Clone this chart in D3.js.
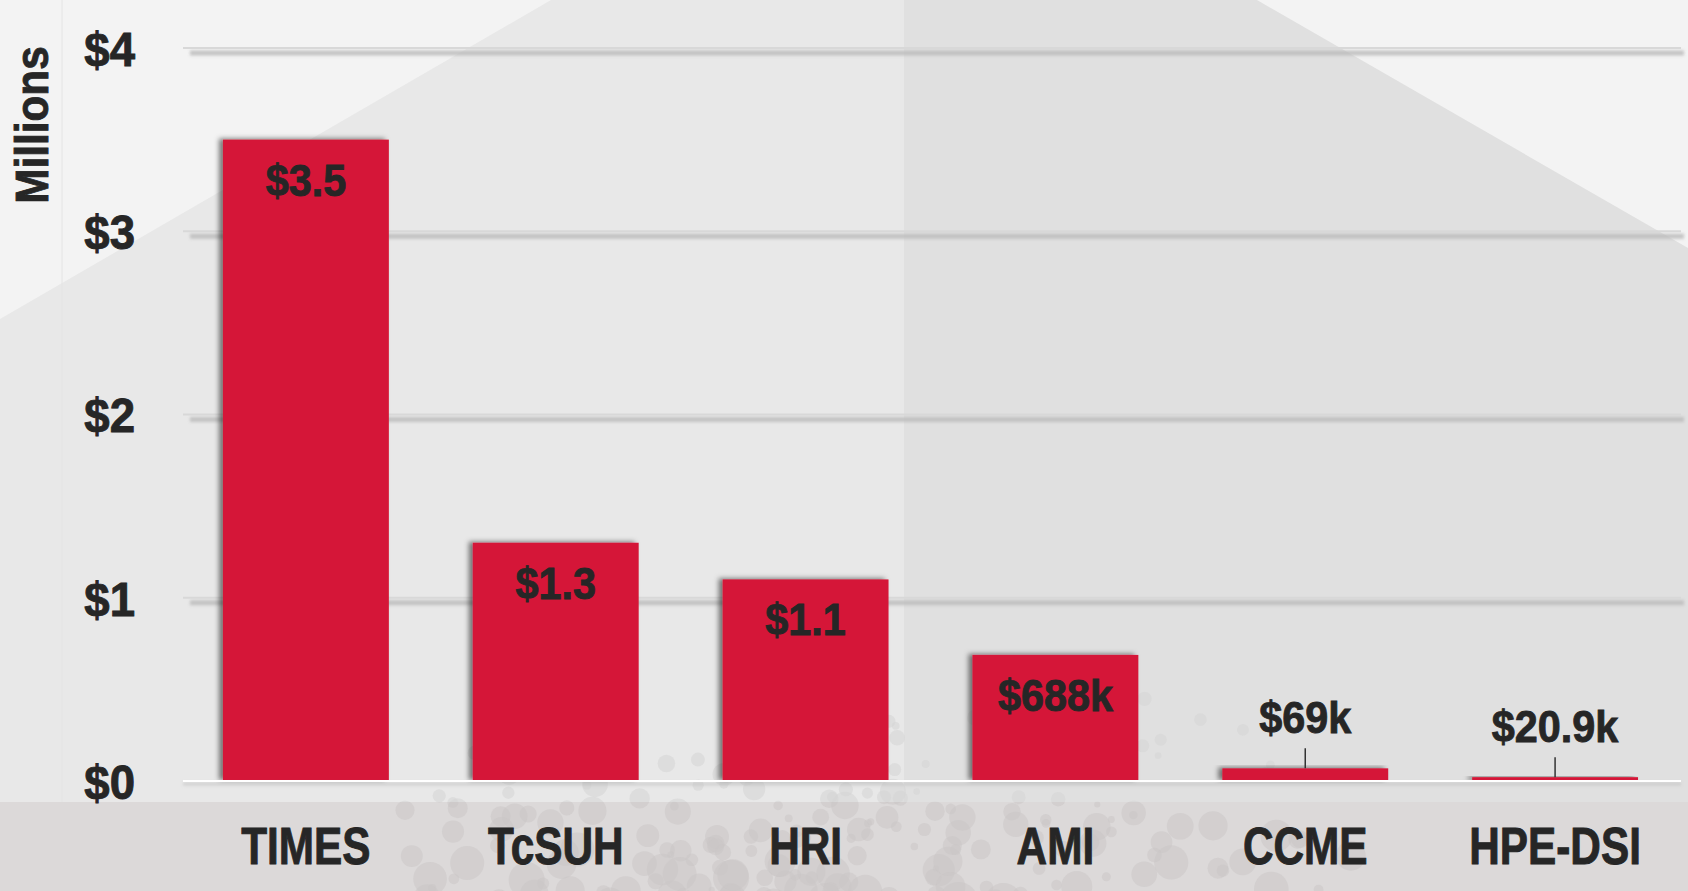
<!DOCTYPE html>
<html>
<head>
<meta charset="utf-8">
<script src="https://cdn.jsdelivr.net/npm/d3@7"></script>
<style>
  html, body { margin: 0; padding: 0; background: #f3f3f3; }
  svg { display: block; }
  text { font-family: "Liberation Sans", Arial, sans-serif; font-weight: bold; fill: #262626; stroke: #262626; stroke-width: 0.9px; }
</style>
</head>
<body>
<svg id="chart" width="1688" height="891"></svg>
<script>
// ---- data ----
const categories = ["TIMES", "TcSUH", "HRI", "AMI", "CCME", "HPE-DSI"];
const values = [3.5, 1.3, 1.1, 0.688, 0.069, 0.0209]; // millions of dollars
const valueLabels = ["$3.5", "$1.3", "$1.1", "$688k", "$69k", "$20.9k"];
const yTicks = [0, 1, 2, 3, 4];
const yTickLabels = ["$0", "$1", "$2", "$3", "$4"];
const yTitle = "Millions";

// ---- layout ----
const W = 1688, H = 891;
const svg = d3.select("#chart");
const defs = svg.append("defs");

defs.append("filter").attr("id", "barShadow").attr("x", "-20%").attr("y", "-20%").attr("width", "140%").attr("height", "140%")
  .append("feDropShadow").attr("dx", -4).attr("dy", -1).attr("stdDeviation", 2.5)
  .attr("flood-color", "#000").attr("flood-opacity", 0.5);
defs.append("filter").attr("id", "blur2").attr("filterUnits", "userSpaceOnUse")
  .attr("x", 0).attr("y", 0).attr("width", W).attr("height", H)
  .append("feGaussianBlur").attr("stdDeviation", 1.8);
defs.append("clipPath").attr("id", "polyClip").append("polygon")
  .attr("points", [[0, 319], [551, 0], [1257, 0], [W, 248], [W, H], [0, H]].map(p => p.join(",")).join(" "));
defs.append("clipPath").attr("id", "bandClip").append("rect").attr("x", 0).attr("y", 802).attr("width", W).attr("height", H - 802);
defs.append("clipPath").attr("id", "aboveClip").append("rect").attr("x", 0).attr("y", 0).attr("width", W).attr("height", 802);

// ---- background ----
const bg = svg.append("g");
bg.append("rect").attr("width", W).attr("height", H).attr("fill", "#f3f3f3");
const poly = bg.append("g").attr("clip-path", "url(#polyClip)");
poly.append("rect").attr("x", 0).attr("y", 0).attr("width", 904).attr("height", H).attr("fill", "#e8e8e8");
poly.append("rect").attr("x", 904).attr("y", 0).attr("width", W - 904).attr("height", H).attr("fill", "#e0e0e0");
bg.append("line").attr("x1", 62).attr("x2", 62).attr("y1", 0).attr("y2", H).attr("stroke", "#e4e4e4").attr("stroke-width", 1);
bg.append("rect").attr("x", 0).attr("y", 802).attr("width", W).attr("height", H - 802).attr("fill", "#dcd9d9");

// decorative bubbles (deterministic texture)
let seed = 11;
function lcg() { seed = (seed * 16807) % 2147483647; return (seed - 1) / 2147483646; }
const bubbleSpecs = [];
for (let i = 0; i < 360; i++) {
  const u = lcg(), v = lcg(), w = lcg(), k = lcg();
  const bx = 360 + u * 1000;
  const by = 690 + Math.pow(v, 0.55) * 215;
  const dist = Math.abs(bx - 820) / 520;
  if (k < dist * 0.9) continue;
  const r = 3 + w * (4 + (by - 690) / 16);
  bubbleSpecs.push([bx, by, r]);
}
const above = bg.append("g").attr("clip-path", "url(#aboveClip)");
const below = bg.append("g").attr("clip-path", "url(#bandClip)");
bubbleSpecs.forEach(([bx, by, r]) => {
  above.append("circle").attr("cx", bx).attr("cy", by).attr("r", r).attr("fill", "#d6d6d6").attr("opacity", 0.6);
  below.append("circle").attr("cx", bx).attr("cy", by).attr("r", r).attr("fill", "#c9c6c6").attr("opacity", 0.5);
});

// ---- scales ----
const x = d3.scaleBand().domain(categories).range([181, 1680]).paddingInner(0.336).paddingOuter(0.168);
const y = d3.scaleLinear().domain([0, 4]).range([781, 48]);

// ---- gridlines ----
const grid = svg.append("g");
yTicks.filter(t => t > 0).forEach(t => {
  grid.append("line").attr("x1", 190).attr("x2", 1684).attr("y1", y(t) + 5).attr("y2", y(t) + 5)
    .attr("stroke", "#bcbcbc").attr("stroke-width", 5).attr("opacity", 0.85).attr("filter", "url(#blur2)");
  grid.append("line").attr("x1", 183).attr("x2", 1681).attr("y1", y(t)).attr("y2", y(t))
    .attr("stroke", "#d8d8d8").attr("stroke-width", 2);
});

// ---- y axis labels ----
const yAxis = d3.axisLeft(y).tickValues(yTicks).tickFormat((d, i) => yTickLabels[i]).tickSize(0).tickPadding(0);
const yg = svg.append("g").attr("transform", "translate(135,0)").call(yAxis);
yg.select(".domain").remove();
yg.selectAll("text").attr("font-size", 48).attr("fill", "#262626")
  .attr("font-family", null).attr("dy", "0.36em").attr("text-anchor", "end")
  .attr("transform", "scale(0.95,1)");

svg.append("text").attr("transform", "translate(48,125) rotate(-90) scale(0.9,1)").attr("text-anchor", "middle")
  .attr("font-size", 47).text(yTitle);

// ---- bars ----
const bars = svg.append("g");
bars.selectAll("rect").data(values).join("rect")
  .attr("x", (d, i) => x(categories[i]))
  .attr("y", d => y(d))
  .attr("width", x.bandwidth())
  .attr("height", d => y(0) - y(d))
  .attr("fill", "#d51737")
  .attr("filter", "url(#barShadow)");

// baseline
svg.append("line").attr("x1", 183).attr("x2", 1681).attr("y1", y(0) + 3).attr("y2", y(0) + 3)
  .attr("stroke", "#b8b8b8").attr("stroke-width", 3).attr("opacity", 0.5).attr("filter", "url(#blur2)");
svg.append("line").attr("x1", 183).attr("x2", 1681).attr("y1", y(0)).attr("y2", y(0))
  .attr("stroke", "#ffffff").attr("stroke-width", 2);

// ---- value labels ----
const labels = svg.append("g");
values.forEach((v, i) => {
  const cx = x(categories[i]) + x.bandwidth() / 2;
  const inside = v > 0.3;
  if (!inside) {
    labels.append("line").attr("x1", cx).attr("x2", cx).attr("y1", y(v) - 20).attr("y2", y(v))
      .attr("stroke", "#333").attr("stroke-width", 1.5);
  }
  labels.append("text")
    .attr("transform", `translate(${cx},${inside ? y(v) + 56 : y(v) - 35}) scale(0.92,1)`)
    .attr("text-anchor", "middle")
    .attr("font-size", 45).text(valueLabels[i]);
});

// ---- category labels ----
const xAxis = d3.axisBottom(x).tickSize(0).tickPadding(0);
const xg = svg.append("g").attr("transform", "translate(0,864)").call(xAxis);
xg.select(".domain").remove();
xg.selectAll("text").attr("font-size", 51).attr("fill", "#262626").attr("font-family", null)
  .attr("dy", 0).attr("y", 0).attr("transform", "scale(0.83,1)");
</script>
</body>
</html>
